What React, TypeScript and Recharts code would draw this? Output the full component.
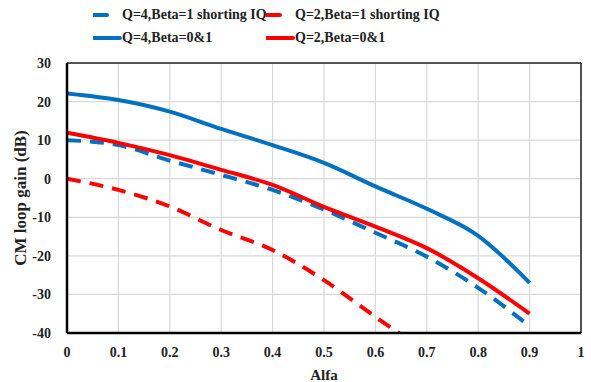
import {
  LineChart, Line, XAxis, YAxis, CartesianGrid, Legend, ReferenceLine,
} from 'recharts';

const alfa = [0, 0.1, 0.2, 0.3, 0.4, 0.5, 0.6, 0.7, 0.8, 0.9];
const q4ShortIQ = [10, 8.7, 4.7, 1, -2.9, -8, -14, -20.2, -28.3, -38.2];
const q2ShortIQ = [0, -2.9, -7.2, -13.3, -18.5, -26.3, -35.8, -45, null, null];
const q4Beta01 = [22.1, 20.4, 17.4, 12.9, 8.7, 4.1, -2.0, -7.8, -14.8, -27];
const q2Beta01 = [11.9, 9.3, 6.1, 2.3, -1.6, -7.3, -12.4, -18, -25.8, -35];

const xTicks = [0, 0.1, 0.2, 0.3, 0.4, 0.5, 0.6, 0.7, 0.8, 0.9, 1];
const yTicks = [-40, -30, -20, -10, 0, 10, 20, 30];

const series = [
  { key: 'q4s', name: 'Q=4,Beta=1 shorting IQ', color: '#0070c0', dash: '14 9' },
  { key: 'q2s', name: 'Q=2,Beta=1 shorting IQ', color: '#ff0000', dash: '14 9' },
  { key: 'q4', name: 'Q=4,Beta=0&1', color: '#0070c0', dash: undefined },
  { key: 'q2', name: 'Q=2,Beta=0&1', color: '#ff0000', dash: undefined },
];

const data = alfa.map((a, i) => ({
  alfa: a,
  q4s: q4ShortIQ[i],
  q2s: q2ShortIQ[i],
  q4: q4Beta01[i],
  q2: q2Beta01[i],
}));

const font = '"Liberation Serif", "Times New Roman", serif';
const tickStyle = { fill: '#222', fontSize: 14, fontWeight: 700, fontFamily: font };

function LegendBox() {
  const cols = [93, 266];
  const rows = [15, 38];
  return (
    <div style={{ position: 'relative', width: 591, height: 55, fontFamily: font }}>
      {series.map((s, i) => (
        <div
          key={s.key}
          style={{
            position: 'absolute',
            left: cols[i % 2],
            top: rows[Math.floor(i / 2)] - 10,
            height: 20,
            display: 'flex',
            alignItems: 'center',
            whiteSpace: 'nowrap',
          }}
        >
          <svg width={29} height={20}>
            <line
              x1={0} y1={10} x2={s.dash ? 14 : 27} y2={10}
              stroke={s.color} strokeWidth={4} strokeLinecap="round"
            />
          </svg>
          <span style={{ fontSize: 14, fontWeight: 700, color: '#222' }}>{s.name}</span>
        </div>
      ))}
    </div>
  );
}

export default function App() {
  return (
    <div style={{ position: 'absolute', left: 0, top: 0, background: '#fff' }}>
      <LineChart
        width={591}
        height={382}
        data={data}
        margin={{ top: 63, right: 10, bottom: 0, left: 0 }}
      >
        <CartesianGrid stroke="#d9d9d9" strokeWidth={1.2} />
        <XAxis
          dataKey="alfa"
          type="number"
          domain={[0, 1]}
          ticks={xTicks}
          tickLine={false}
          axisLine={{ stroke: '#000', strokeWidth: 2.5 }}
          tick={tickStyle}
          tickMargin={8}
          height={49}
          label={{ value: 'Alfa', position: 'insideBottom', offset: 2, style: { ...tickStyle, fontSize: 15 } }}
        />
        <YAxis
          type="number"
          domain={[-40, 30]}
          ticks={yTicks}
          allowDataOverflow
          tickLine={false}
          axisLine={{ stroke: '#000', strokeWidth: 2.5 }}
          tick={tickStyle}
          tickMargin={10}
          width={67}
          label={{
            value: 'CM loop gain (dB)', angle: -90, position: 'insideLeft', offset: 20,
            style: { ...tickStyle, fontSize: 17, textAnchor: 'middle' },
          }}
        />
        <ReferenceLine y={30} stroke="#222" strokeWidth={1.5} />
        <ReferenceLine x={1} stroke="#222" strokeWidth={1.5} />
        <Legend
          layout="horizontal"
          verticalAlign="middle"
          align="center"
          wrapperStyle={{ position: 'absolute', top: 0, left: 0, width: 591, height: 55 }}
          content={() => <LegendBox />}
        />
        {series.map((s) => (
          <Line
            key={s.key}
            dataKey={s.key}
            name={s.name}
            type="monotone"
            stroke={s.color}
            strokeWidth={4}
            strokeDasharray={s.dash}
            dot={false}
            connectNulls={false}
            isAnimationActive={false}
          />
        ))}
      </LineChart>
    </div>
  );
}
